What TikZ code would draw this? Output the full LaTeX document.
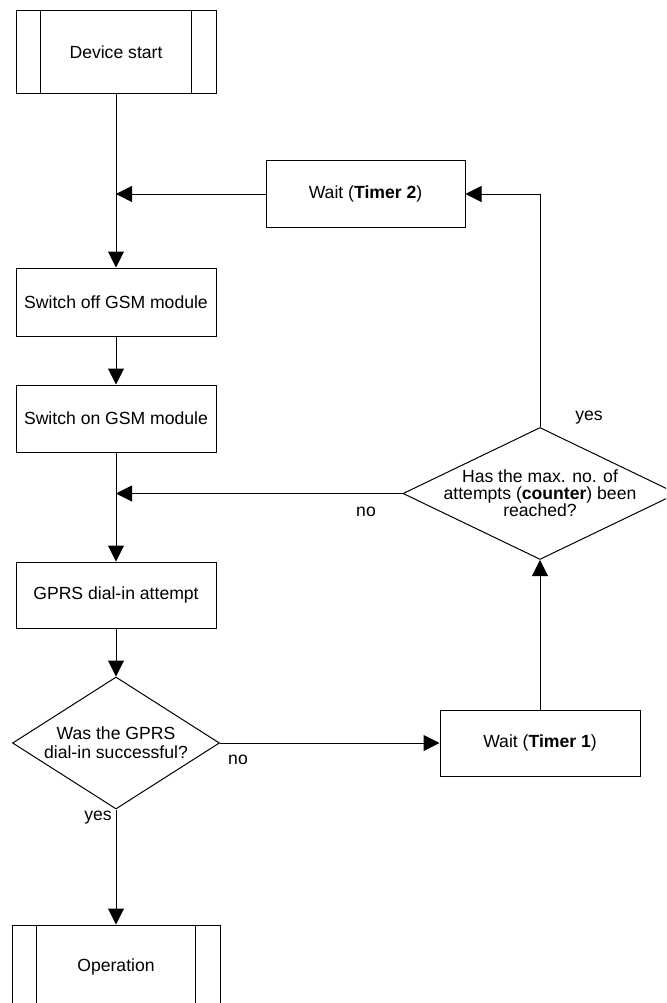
\documentclass[tikz,border=0pt]{standalone}
\usepackage{fontspec}
\setmainfont{Liberation Sans}
\usetikzlibrary{arrows.meta,shapes.geometric}
\begin{document}
\begin{tikzpicture}[x=1pt,y=-1pt,
  txt/.style={font=\fontsize{17.6}{19}\selectfont},
  box/.style={txt, draw, line width=1pt, minimum width=200pt, minimum height=67pt, inner sep=0pt, align=center},
  dia/.style={draw, diamond, line width=1pt, inner sep=0pt},
  conn/.style={line width=1pt},
  flow/.style={line width=1pt, -{Triangle[length=16pt,width=16pt]}},
  lbl/.style={txt, inner sep=0pt}]
\useasboundingbox (0,0) rectangle (666,1003);
\fill[white] (0,0) rectangle (666,1003);
\clip (0,0) rectangle (666,1003);

% nodes
\node[box, minimum height=83pt] (ds) at (116,52.5) {Device start};
\draw[conn] ([xshift=25pt]ds.north west) -- ([xshift=25pt]ds.south west);
\draw[conn] ([xshift=-25pt]ds.north east) -- ([xshift=-25pt]ds.south east);

\node[box, minimum width=199pt, minimum height=66pt] (t2) at (365.5,194) {Wait (\textbf{Timer 2})};
\node[box, minimum height=68pt] (off) at (116,302) {Switch off GSM module};
\node[box] (on) at (116,418.5) {Switch on GSM module};
\node[dia, minimum width=274pt, minimum height=132pt] (d2) at (540,493.5) {};
\node[txt, align=center, font=\fontsize{17.6}{17}\selectfont, inner sep=0pt] at (d2) {Has the max. no. of\\attempts (\textbf{counter}) been\\reached?};
\node[box, minimum height=66pt] (gprs) at (116,595) {GPRS dial-in attempt};
\node[dia, minimum width=207pt, minimum height=132pt] (d1) at (116,743) {};
\node[txt, align=center, inner sep=0pt] at (d1) {Was the GPRS\\dial-in successful?};
\node[box, minimum height=66pt] (t1) at (540,743) {Wait (\textbf{Timer 1})};
\node[box, minimum width=208pt, minimum height=83pt] (op) at (116,966.5) {Operation};
\draw[conn] ([xshift=25pt]op.north west) -- ([xshift=25pt]op.south west);
\draw[conn] ([xshift=-25pt]op.north east) -- ([xshift=-25pt]op.south east);

% junctions
\coordinate (j1) at (116,194);
\coordinate (j2) at (116,493.5);

% connectors
\draw[conn] (ds.south) -- (j1);
\draw[flow] (j1) -- (off.north);
\draw[flow] (t2.west) -- (j1);
\draw[flow] (off.south) -- (on.north);
\draw[conn] (on.south) -- (j2);
\draw[flow] (j2) -- (gprs.north);
\draw[flow] (d2.west) -- (j2);
\draw[flow] (gprs.south) -- (d1.north);
\draw[flow] (d1.south) -- (op.north);
\draw[flow] (d1.east) -- (t1.west);
\draw[flow] (t1.north) -- (d2.south);
\draw[flow] (d2.north) |- (t2.east);

% labels
\node[lbl] (l1) at (589,418) {yes};
\node[lbl] (l2) at (366,512) {no};
\node[lbl] (l3) at (238,760) {no};
\node[lbl] (l4) at (98,818) {yes};
\end{tikzpicture}
\end{document}
